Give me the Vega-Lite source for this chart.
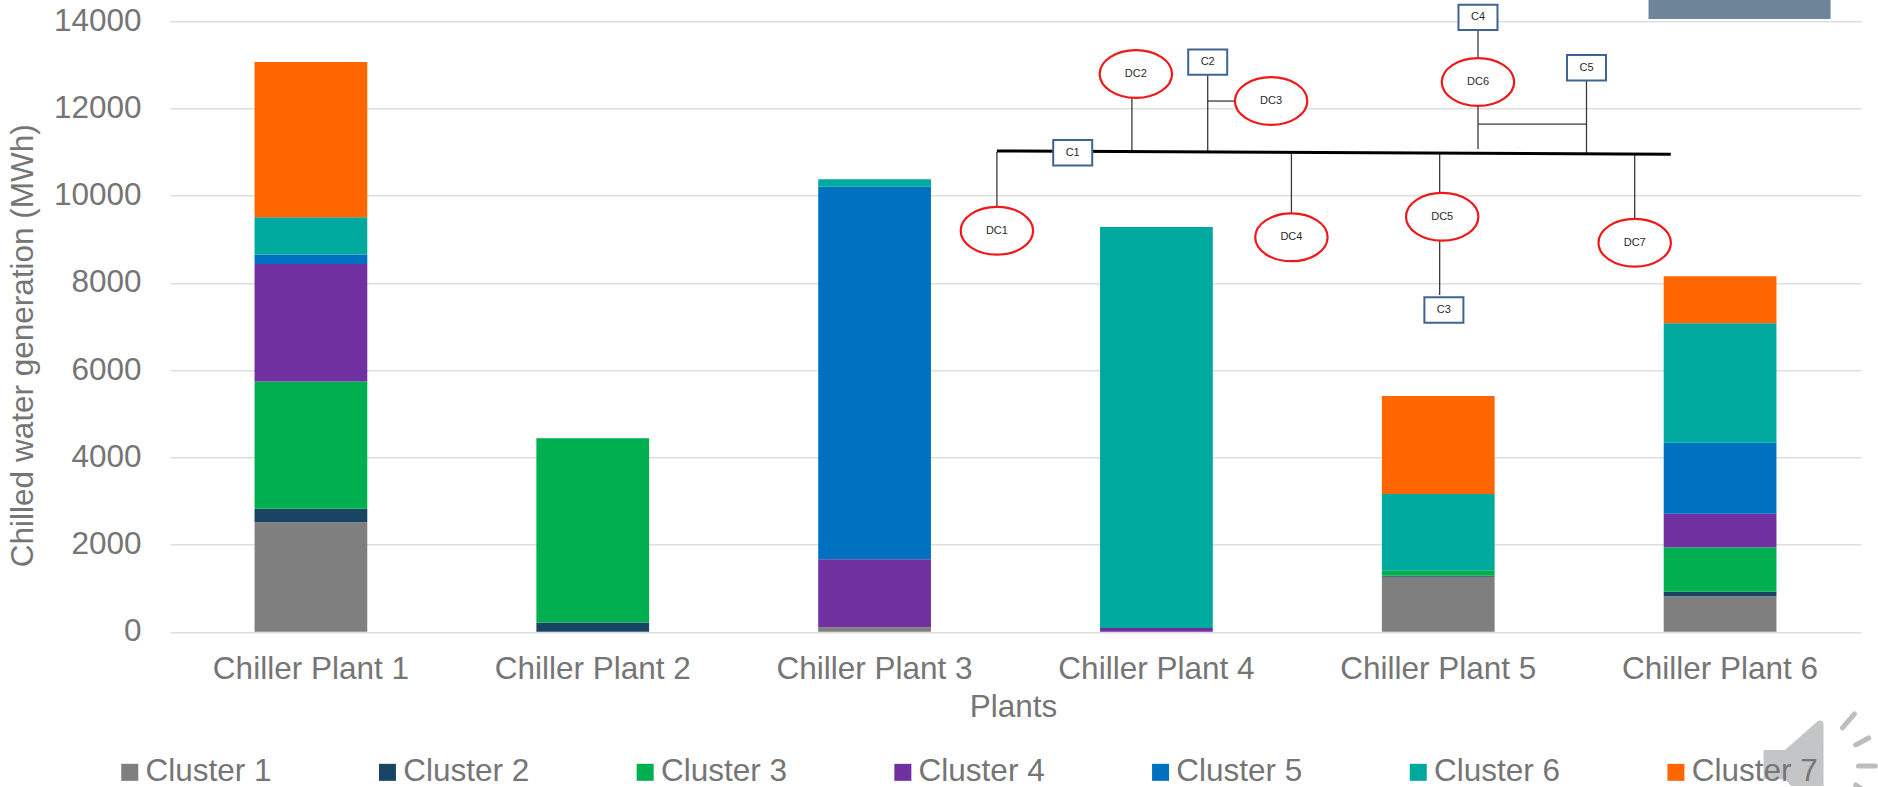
{
  "$schema": "https://vega.github.io/schema/vega-lite/v6.json",
  "autosize": "none",
  "width": 1691,
  "height": 610.5,
  "padding": {"left": 170, "top": 21.2, "right": 17, "bottom": 155.3},
  "background": "white",
  "datasets": {
    "generation": [
      {"plant": "Chiller Plant 1", "cluster": "Cluster 1", "mwh": 2510},
      {"plant": "Chiller Plant 1", "cluster": "Cluster 2", "mwh": 310},
      {"plant": "Chiller Plant 1", "cluster": "Cluster 3", "mwh": 2920},
      {"plant": "Chiller Plant 1", "cluster": "Cluster 4", "mwh": 2690},
      {"plant": "Chiller Plant 1", "cluster": "Cluster 5", "mwh": 222},
      {"plant": "Chiller Plant 1", "cluster": "Cluster 6", "mwh": 850},
      {"plant": "Chiller Plant 1", "cluster": "Cluster 7", "mwh": 3560},
      {"plant": "Chiller Plant 2", "cluster": "Cluster 2", "mwh": 210},
      {"plant": "Chiller Plant 2", "cluster": "Cluster 3", "mwh": 4225},
      {"plant": "Chiller Plant 3", "cluster": "Cluster 1", "mwh": 100},
      {"plant": "Chiller Plant 3", "cluster": "Cluster 4", "mwh": 1560},
      {"plant": "Chiller Plant 3", "cluster": "Cluster 5", "mwh": 8544},
      {"plant": "Chiller Plant 3", "cluster": "Cluster 6", "mwh": 170},
      {"plant": "Chiller Plant 4", "cluster": "Cluster 4", "mwh": 85},
      {"plant": "Chiller Plant 4", "cluster": "Cluster 6", "mwh": 9195},
      {"plant": "Chiller Plant 5", "cluster": "Cluster 1", "mwh": 1261},
      {"plant": "Chiller Plant 5", "cluster": "Cluster 2", "mwh": 23},
      {"plant": "Chiller Plant 5", "cluster": "Cluster 3", "mwh": 124},
      {"plant": "Chiller Plant 5", "cluster": "Cluster 6", "mwh": 1749},
      {"plant": "Chiller Plant 5", "cluster": "Cluster 7", "mwh": 2248},
      {"plant": "Chiller Plant 6", "cluster": "Cluster 1", "mwh": 812},
      {"plant": "Chiller Plant 6", "cluster": "Cluster 2", "mwh": 105},
      {"plant": "Chiller Plant 6", "cluster": "Cluster 3", "mwh": 1018},
      {"plant": "Chiller Plant 6", "cluster": "Cluster 4", "mwh": 771},
      {"plant": "Chiller Plant 6", "cluster": "Cluster 5", "mwh": 1628},
      {"plant": "Chiller Plant 6", "cluster": "Cluster 6", "mwh": 2738},
      {"plant": "Chiller Plant 6", "cluster": "Cluster 7", "mwh": 1077}
    ],
    "branches": [
      {"pos": 2.934, "top": 11000, "pos2": 2.934, "end": 9739},
      {"pos": 3.413, "top": 12238, "pos2": 3.413, "end": 10988},
      {"pos": 3.682, "top": 12765, "pos2": 3.682, "end": 10983},
      {"pos": 3.682, "top": 12169, "pos2": 3.78, "end": 12169},
      {"pos": 3.979, "top": 10954, "pos2": 3.979, "end": 9601},
      {"pos": 4.505, "top": 10954, "pos2": 4.505, "end": 10060},
      {"pos": 4.505, "top": 9050, "pos2": 4.505, "end": 7721},
      {"pos": 4.641, "top": 13797, "pos2": 4.641, "end": 13155},
      {"pos": 4.641, "top": 12077, "pos2": 4.641, "end": 11068},
      {"pos": 5.026, "top": 12720, "pos2": 5.026, "end": 10965},
      {"pos": 4.641, "top": 11642, "pos2": 5.026, "end": 11642},
      {"pos": 5.197, "top": 10954, "pos2": 5.197, "end": 9470}
    ],
    "bus": [
      {"pos": 2.934, "top": 11023, "pos2": 5.325, "end": 10947}
    ],
    "nodes": [
      {"name": "DC1", "kind": "demand", "pos": 2.934, "level": 9195},
      {"name": "DC2", "kind": "demand", "pos": 3.427, "level": 12788},
      {"name": "DC3", "kind": "demand", "pos": 3.907, "level": 12169},
      {"name": "DC4", "kind": "demand", "pos": 3.979, "level": 9044},
      {"name": "DC5", "kind": "demand", "pos": 4.514, "level": 9516},
      {"name": "DC6", "kind": "demand", "pos": 4.641, "level": 12605},
      {"name": "DC7", "kind": "demand", "pos": 5.197, "level": 8920},
      {"name": "C1", "kind": "chiller", "pos": 3.203, "level": 10983},
      {"name": "C2", "kind": "chiller", "pos": 3.682, "level": 13063},
      {"name": "C3", "kind": "chiller", "pos": 4.52, "level": 7377},
      {"name": "C4", "kind": "chiller", "pos": 4.641, "level": 14088},
      {"name": "C5", "kind": "chiller", "pos": 5.026, "level": 12933}
    ],
    "banner": [
      {"pos": 5.246, "top": 14485, "pos2": 5.892, "end": 14049}
    ],
    "speakerBody": [
      {"pos": 5.782, "level": -2827}
    ],
    "speakerWaves": [
      {"pos": 5.934, "top": -2208, "pos2": 5.977, "end": -1887},
      {"pos": 5.981, "top": -2598, "pos2": 6.027, "end": -2437},
      {"pos": 5.991, "top": -3080, "pos2": 6.051, "end": -3080},
      {"pos": 5.981, "top": -3515, "pos2": 6.02, "end": -3676}
    ]
  },
  "config": {
    "font": "Liberation Sans",
    "view": {"stroke": null}
  },
  "resolve": {"scale": {"x": "independent", "y": "independent"}},
  "layer": [
    {
      "data": {"name": "generation"},
      "transform": [
        {"calculate": "indexof(['Cluster 1','Cluster 2','Cluster 3','Cluster 4','Cluster 5','Cluster 6','Cluster 7'], datum.cluster)", "as": "stackOrder"}
      ],
      "mark": {"type": "bar", "stroke": null},
      "encoding": {
        "x": {
          "field": "plant",
          "type": "nominal",
          "scale": {"paddingInner": 0.6, "paddingOuter": 0.3},
          "axis": {
            "title": "Plants",
            "titleFontSize": 31.5,
            "titleFontWeight": "normal",
            "titleColor": "#757575",
            "titleX": 843,
            "titleY": 85,
            "titleBaseline": "alphabetic",
            "labelAngle": 0,
            "labelFontSize": 31.5,
            "labelColor": "#757575",
            "labelPadding": 22,
            "labelLimit": 300,
            "ticks": false,
            "domain": false,
            "grid": false
          }
        },
        "y": {
          "field": "mwh",
          "type": "quantitative",
          "stack": "zero",
          "scale": {"domain": [0, 14000], "nice": false},
          "axis": {
            "title": "Chilled water generation (MWh)",
            "titleFontSize": 31.5,
            "titleFontWeight": "normal",
            "titleColor": "#757575",
            "titleX": -147,
            "titleY": 324,
            "titleBaseline": "middle",
            "values": [0, 2000, 4000, 6000, 8000, 10000, 12000, 14000],
            "format": "d",
            "labelFontSize": 31.5,
            "labelColor": "#757575",
            "labelPadding": 29,
            "ticks": false,
            "domain": false,
            "grid": true,
            "gridColor": "#DEDEDE",
            "gridWidth": 1.6
          }
        },
        "color": {
          "field": "cluster",
          "type": "nominal",
          "scale": {
            "domain": ["Cluster 1", "Cluster 2", "Cluster 3", "Cluster 4", "Cluster 5", "Cluster 6", "Cluster 7"],
            "range": ["#7F7F7F", "#1A4463", "#00B050", "#7030A0", "#0070C0", "#00A99D", "#FF6600"]
          },
          "legend": {
            "title": null,
            "orient": "none",
            "legendX": -56,
            "legendY": 735,
            "direction": "horizontal",
            "columns": 7,
            "columnPadding": 99.7,
            "symbolType": "square",
            "symbolSize": 289,
            "symbolStrokeWidth": 0,
            "labelFontSize": 31.5,
            "labelColor": "#757575",
            "labelOffset": 0,
            "labelLimit": 300
          }
        },
        "order": {"field": "stackOrder", "type": "quantitative"}
      }
    },
    {
      "data": {"name": "banner"},
      "mark": {"type": "rect", "fill": "#6E8599"},
      "encoding": {
        "x": {"field": "pos", "type": "quantitative", "scale": {"domain": [0, 6], "nice": false, "zero": false}, "axis": null},
        "x2": {"field": "pos2"},
        "y": {"field": "top", "type": "quantitative", "scale": {"domain": [0, 14000], "nice": false}, "axis": null},
        "y2": {"field": "end"}
      }
    },
    {
      "data": {"name": "branches"},
      "mark": {"type": "rule", "stroke": "#3A3A3A", "strokeWidth": 1.3},
      "encoding": {
        "x": {"field": "pos", "type": "quantitative", "scale": {"domain": [0, 6], "nice": false, "zero": false}, "axis": null},
        "x2": {"field": "pos2"},
        "y": {"field": "top", "type": "quantitative", "scale": {"domain": [0, 14000], "nice": false}, "axis": null},
        "y2": {"field": "end"}
      }
    },
    {
      "data": {"name": "bus"},
      "mark": {"type": "rule", "stroke": "#000000", "strokeWidth": 3},
      "encoding": {
        "x": {"field": "pos", "type": "quantitative", "scale": {"domain": [0, 6], "nice": false, "zero": false}, "axis": null},
        "x2": {"field": "pos2"},
        "y": {"field": "top", "type": "quantitative", "scale": {"domain": [0, 14000], "nice": false}, "axis": null},
        "y2": {"field": "end"}
      }
    },
    {
      "data": {"name": "nodes"},
      "transform": [{"filter": "datum.kind === 'demand'"}],
      "mark": {
        "type": "point",
        "shape": "M-1 0 A1 0.66 0 1 1 1 0 A1 0.66 0 1 1 -1 0 Z",
        "size": 5242,
        "filled": true,
        "fill": "white",
        "stroke": "#F01818",
        "strokeWidth": 2.2,
        "opacity": 1
      },
      "encoding": {
        "x": {"field": "pos", "type": "quantitative", "scale": {"domain": [0, 6], "nice": false, "zero": false}, "axis": null},
        "y": {"field": "level", "type": "quantitative", "scale": {"domain": [0, 14000], "nice": false}, "axis": null}
      }
    },
    {
      "data": {"name": "nodes"},
      "transform": [{"filter": "datum.kind === 'chiller'"}],
      "mark": {
        "type": "point",
        "shape": "M-1 -0.65 H1 V0.65 H-1 Z",
        "size": 1521,
        "filled": true,
        "fill": "white",
        "stroke": "#3F6493",
        "strokeWidth": 2,
        "opacity": 1
      },
      "encoding": {
        "x": {"field": "pos", "type": "quantitative", "scale": {"domain": [0, 6], "nice": false, "zero": false}, "axis": null},
        "y": {"field": "level", "type": "quantitative", "scale": {"domain": [0, 14000], "nice": false}, "axis": null}
      }
    },
    {
      "data": {"name": "nodes"},
      "mark": {"type": "text", "fontSize": 11, "color": "#2A2A2A", "align": "center", "baseline": "middle"},
      "encoding": {
        "x": {"field": "pos", "type": "quantitative", "scale": {"domain": [0, 6], "nice": false, "zero": false}, "axis": null},
        "y": {"field": "level", "type": "quantitative", "scale": {"domain": [0, 14000], "nice": false}, "axis": null},
        "text": {"field": "name"}
      }
    },
    {
      "data": {"name": "speakerBody"},
      "mark": {
        "type": "point",
        "shape": "M-37 -6 H-15 L18 -35 Q24 -37 25 -31 V32 H-9 L-15 25 H-37 Z",
        "size": 4,
        "filled": true,
        "fill": "#BCBDBF",
        "fillOpacity": 0.88,
        "stroke": "white",
        "strokeWidth": 2,
        "opacity": 1
      },
      "encoding": {
        "x": {"field": "pos", "type": "quantitative", "scale": {"domain": [0, 6], "nice": false, "zero": false}, "axis": null},
        "y": {"field": "level", "type": "quantitative", "scale": {"domain": [0, 14000], "nice": false}, "axis": null}
      }
    },
    {
      "data": {"name": "speakerWaves"},
      "mark": {"type": "rule", "stroke": "white", "strokeWidth": 8, "strokeCap": "round"},
      "encoding": {
        "x": {"field": "pos", "type": "quantitative", "scale": {"domain": [0, 6], "nice": false, "zero": false}, "axis": null},
        "x2": {"field": "pos2"},
        "y": {"field": "top", "type": "quantitative", "scale": {"domain": [0, 14000], "nice": false}, "axis": null},
        "y2": {"field": "end"}
      }
    },
    {
      "data": {"name": "speakerWaves"},
      "mark": {"type": "rule", "stroke": "#BCBDBF", "strokeWidth": 5, "strokeCap": "round"},
      "encoding": {
        "x": {"field": "pos", "type": "quantitative", "scale": {"domain": [0, 6], "nice": false, "zero": false}, "axis": null},
        "x2": {"field": "pos2"},
        "y": {"field": "top", "type": "quantitative", "scale": {"domain": [0, 14000], "nice": false}, "axis": null},
        "y2": {"field": "end"}
      }
    }
  ]
}
